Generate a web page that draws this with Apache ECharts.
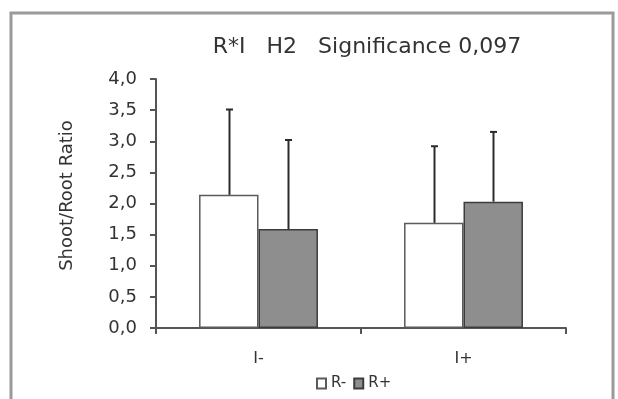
<!DOCTYPE html>
<html>
<head>
<meta charset="utf-8">
<script src="https://cdn.jsdelivr.net/npm/echarts@6/dist/echarts.min.js"></script>
<style>
  html, body { margin: 0; padding: 0; background: #fff; }
  #chart { width: 618px; height: 399px; }
</style>
</head>
<body>
<div id="chart"></div>
<script>
// Shoot/root ratio by I treatment, split by R treatment
const categories = ['I-', 'I+'];
const seriesNames = ['R-', 'R+'];
const meanRminus = [2.14, 1.69];
const meanRplus = [1.59, 2.03];
const errRminus = [1.37, 1.23];
const errRplus = [1.43, 1.12];
const yTicks = ['0,0', '0,5', '1,0', '1,5', '2,0', '2,5', '3,0', '3,5', '4,0'];

const FONT = 'DejaVu Sans';
const CAT_GAP = 0.42;

// Upward-only error whiskers with a short cap, placed over each bar
function whisker(side, errs) {
  return function (params, api) {
    const idx = api.value(0);
    const mean = api.value(1);
    const catW = api.size([1, 0])[0];
    const barW = catW * (1 - CAT_GAP) / 2;
    const base = api.coord([idx, mean]);
    const top = api.coord([idx, mean + errs[idx]]);
    const x = Math.round(base[0] + side * barW / 2) + 0.5;
    const style = { stroke: '#2b2b2b', lineWidth: 2 };
    return {
      type: 'group',
      children: [
        { type: 'line', shape: { x1: x, y1: base[1], x2: x, y2: top[1] }, style: style },
        { type: 'line', shape: { x1: x - 3.5, y1: top[1], x2: x + 3.5, y2: top[1] }, style: style }
      ]
    };
  };
}

const chart = echarts.init(document.getElementById('chart'), null, { renderer: 'canvas' });
chart.setOption({
  animation: false,
  backgroundColor: '#fff',
  textStyle: { fontFamily: FONT },
  graphic: [{
    type: 'rect',
    shape: { x: 11, y: 13, width: 602, height: 400 },
    style: { fill: 'none', stroke: '#9a9a9a', lineWidth: 3 },
    silent: true
  }],
  title: {
    text: 'R*I   H2   Significance 0,097',
    left: 362,
    textAlign: 'center',
    top: 31,
    textStyle: { fontFamily: FONT, fontSize: 22, fontWeight: 'normal', color: '#333' }
  },
  grid: { left: 156, right: 52, top: 79, bottom: 71, containLabel: false },
  legend: {
    data: seriesNames,
    left: 316,
    top: 376,
    padding: 0,
    icon: 'rect',
    itemWidth: 9,
    itemHeight: 10,
    itemGap: 7,
    textStyle: { fontFamily: FONT, fontSize: 15, color: '#333' }
  },
  xAxis: {
    type: 'category',
    data: categories,
    axisLine: { lineStyle: { color: '#555', width: 2 } },
    axisTick: { show: true, length: 6, lineStyle: { color: '#555', width: 2 } },
    axisLabel: { fontFamily: FONT, fontSize: 16, color: '#333', margin: 23 }
  },
  yAxis: {
    type: 'value',
    min: 0,
    max: 4,
    interval: 0.5,
    name: 'Shoot/Root Ratio',
    nameLocation: 'middle',
    nameGap: 80,
    nameTextStyle: { fontFamily: FONT, fontSize: 18, color: '#333', padding: [0, 0, 0, 16] },
    axisLine: { show: true, lineStyle: { color: '#555', width: 2 } },
    axisTick: { show: true, length: 6, lineStyle: { color: '#555', width: 2 } },
    splitLine: { show: false },
    axisLabel: {
      fontFamily: FONT, fontSize: 18, color: '#333', margin: 19,
      formatter: function (v) { return yTicks[Math.round(v * 2)]; }
    }
  },
  series: [
    {
      name: 'R-', type: 'bar', data: meanRminus,
      barGap: '0%', barCategoryGap: (CAT_GAP * 100) + '%',
      itemStyle: { color: '#ffffff', borderColor: '#5a5a5a', borderWidth: 1.5 }
    },
    {
      name: 'R+', type: 'bar', data: meanRplus,
      itemStyle: { color: '#8e8e8e', borderColor: '#3c3c3c', borderWidth: 1.5 }
    },
    {
      type: 'custom', renderItem: whisker(-1, errRminus),
      data: meanRminus.map(function (v, i) { return [i, v]; }),
      encode: { x: 0, y: 1 }, z: 5, silent: true
    },
    {
      type: 'custom', renderItem: whisker(1, errRplus),
      data: meanRplus.map(function (v, i) { return [i, v]; }),
      encode: { x: 0, y: 1 }, z: 5, silent: true
    }
  ]
});
</script>
</body>
</html>
